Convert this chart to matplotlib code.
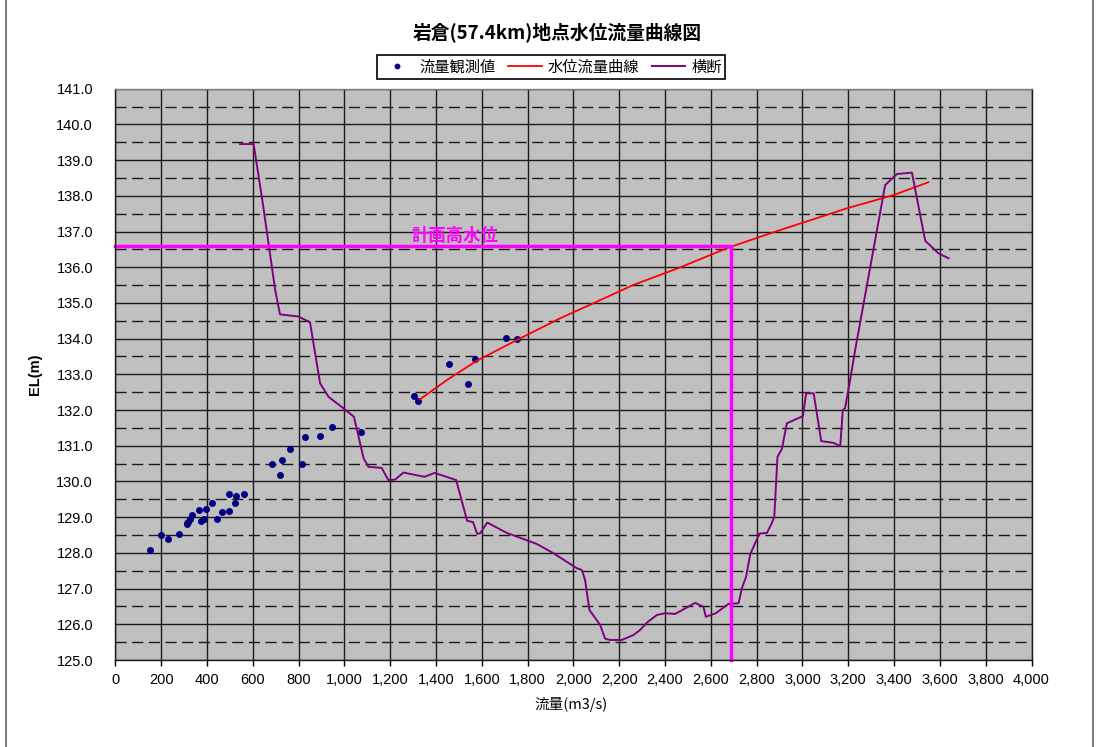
import matplotlib
matplotlib.use("Agg")
import matplotlib.pyplot as plt
from matplotlib.lines import Line2D
from matplotlib.ticker import FuncFormatter, MultipleLocator

plt.rcParams['font.family'] = ['Liberation Sans', 'Noto Sans CJK JP', 'DejaVu Sans']
JP = ['Noto Sans CJK JP', 'Liberation Sans']

# 流量観測値
q_obs = [152, 200, 232, 280, 311, 315, 319, 325, 334, 366, 373, 389, 398, 421,
         444, 468, 495, 498, 524, 526, 563, 683, 717, 729, 762, 813, 828, 895,
         948, 1072, 1303, 1323, 1457, 1538, 1571, 1707, 1752]
h_obs = [128.08, 128.5, 128.4, 128.52, 128.8, 128.83, 128.87, 128.94, 129.06,
         129.2, 128.9, 128.96, 129.22, 129.39, 128.96, 129.15, 129.17, 129.64,
         129.39, 129.59, 129.64, 130.48, 130.17, 130.59, 130.91, 130.48, 131.24,
         131.27, 131.53, 131.39, 132.39, 132.26, 133.28, 132.73, 133.42, 134.03,
         134.0]

# 水位流量曲線
q_curve = [1330, 1450, 1578, 1750, 1942, 2087, 2260, 2456, 2677, 2888, 3194, 3397, 3550]
h_curve = [132.3, 132.85, 133.38, 133.95, 134.57, 134.99, 135.5, 135.97, 136.55,
           137.01, 137.65, 138.02, 138.38]

# 横断
q_sec = [545, 604, 646, 698, 719, 799, 850, 894, 931, 996, 1042, 1084, 1105, 1163,
         1192, 1221, 1258, 1350, 1394, 1488, 1536, 1562, 1580, 1593, 1624, 1709,
         1840, 1913, 2015, 2037, 2051, 2070, 2117, 2138, 2160, 2211, 2262, 2291,
         2320, 2364, 2400, 2444, 2532, 2568, 2578, 2622, 2677, 2721, 2736, 2754,
         2772, 2812, 2845, 2866, 2877, 2891, 2910, 2932, 3002, 3016, 3049, 3082,
         3136, 3165, 3176, 3186, 3208, 3230, 3361, 3412, 3478, 3536, 3594, 3638]
h_sec = [139.45, 139.45, 137.7, 135.36, 134.68, 134.62, 134.46, 132.75, 132.37,
         132.05, 131.81, 130.65, 130.41, 130.38, 130.04, 130.05, 130.25, 130.13,
         130.24, 130.04, 128.9, 128.86, 128.53, 128.55, 128.85, 128.56, 128.25,
         127.99, 127.57, 127.52, 127.24, 126.4, 125.98, 125.6, 125.56, 125.56,
         125.7, 125.84, 126.04, 126.26, 126.31, 126.29, 126.6, 126.49, 126.21,
         126.31, 126.57, 126.59, 127.02, 127.33, 127.96, 128.54, 128.56, 128.83,
         129.01, 130.69, 130.91, 131.63, 131.83, 132.47, 132.47, 131.13, 131.08,
         130.99, 132.0, 132.05, 132.84, 133.68, 138.3, 138.61, 138.65, 136.74,
         136.39, 136.25]

# 計画高水位
hwl = 136.6
q_hwl = 2690

fig = plt.figure(figsize=(11.02, 7.47), dpi=100)
ax = fig.add_axes([115.3 / 1102, 1 - 660 / 747, 916.2 / 1102, 571.3 / 747])
ax.set_facecolor('#C0C0C0')

ax.set_xlim(0, 4000)
ax.set_ylim(125, 141)
ax.xaxis.set_major_locator(MultipleLocator(200))
ax.yaxis.set_major_locator(MultipleLocator(1))
ax.yaxis.set_minor_locator(MultipleLocator(0.5))
ax.xaxis.set_major_formatter(FuncFormatter(lambda v, p: f"{int(v):,}"))
ax.yaxis.set_major_formatter(FuncFormatter(lambda v, p: f"{v:.1f}"))

ax.grid(which='major', axis='both', color='#1a1a1a', lw=1.0)
ax.grid(which='minor', axis='y', color='#1a1a1a', lw=1.0, linestyle=(0, (8, 4)))
ax.set_axisbelow(True)

ax.tick_params(axis='x', which='major', length=4, width=1, pad=5, labelsize=10.5)
ax.tick_params(axis='y', which='both', length=0, pad=16, labelsize=10.5)
for s in ax.spines.values():
    s.set_color('#1a1a1a')
    s.set_linewidth(1)
ax.spines['top'].set_color('#808080')

ax.plot(q_obs, h_obs, linestyle='none', marker='o', markersize=4,
        color='#000080', label='流量観測値')
ax.plot(q_curve, h_curve, color='#FF0000', lw=1.3, label='水位流量曲線')
ax.plot(q_sec, h_sec, color='#800080', lw=1.4, label='横断')

ax.plot([0, q_hwl, q_hwl], [hwl, hwl, 125], color='#FF00FF', lw=2.5, clip_on=False)
ax.text(1294, hwl + 0.03, '計画高水位', color='#FF00FF', fontsize=12.5,
        fontweight='bold', family=JP, ha='left', va='bottom')

ax.set_ylabel('EL(m)', fontsize=10.5, fontweight='bold', labelpad=14)
ax.set_xlabel('流量(m3/s)', family=JP, fontsize=10.5)
ax.xaxis.set_label_coords((571 - 115.3) / 916.2, -0.065)
ax.yaxis.set_label_coords(-(115.3 - 42) / 916.2, 0.5)

fig.text(557 / 1102, 1 - 31.7 / 747, '岩倉(57.4km)地点水位流量曲線図',
         family=JP, fontsize=13.5, fontweight='bold', ha='center', va='center')

leg = ax.legend(loc='center', bbox_to_anchor=(551 / 1102, 1 - 67 / 747),
                bbox_transform=fig.transFigure, ncol=3, frameon=True,
                fancybox=False, edgecolor='black', framealpha=1,
                prop={'family': JP, 'size': 11}, handlelength=2.2,
                handletextpad=0.4, columnspacing=0.8, borderpad=0.2,
                borderaxespad=0, markerscale=0.8)
leg.get_frame().set_linewidth(1.2)

# figure frame
fig.add_artist(Line2D([6 / 1102, 6 / 1102], [0, 1], color='#808080', lw=1.5))
fig.add_artist(Line2D([1093 / 1102, 1093 / 1102], [0, 1], color='#808080', lw=1.5))

fig.savefig('out.png', dpi=100)
